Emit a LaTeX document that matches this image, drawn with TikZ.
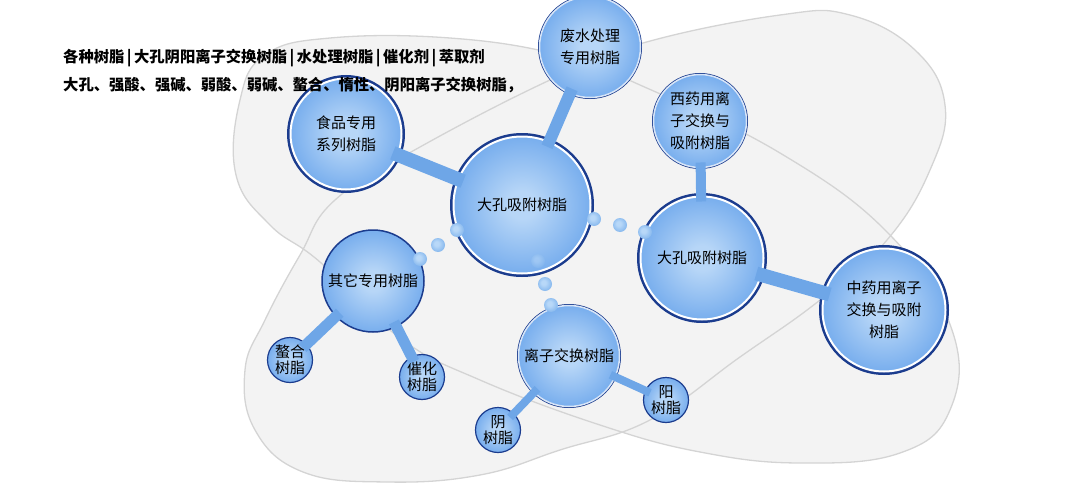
\documentclass[tikz,border=0pt]{standalone}
\usepackage{fontspec}
\setmainfont{Noto Sans CJK SC}
\usetikzlibrary{positioning}
\definecolor{Navy}{HTML}{1B3C8E}
\definecolor{BallIn}{HTML}{B7D6F7}
\definecolor{BallMid}{HTML}{75ACED}
\definecolor{BallOut}{HTML}{3A7FD6}
\definecolor{BubIn}{HTML}{B8D8F8}
\definecolor{BubOut}{HTML}{4F94E2}
\definecolor{Barc}{HTML}{6EA6E7}
\definecolor{Blobc}{HTML}{F3F3F3}
\definecolor{Blobe}{HTML}{D4D4D4}
\pgfdeclareradialshading{ballshade}{\pgfpoint{0bp}{0bp}}{color(0bp)=(BallIn); color(5bp)=(BallIn); color(26bp)=(BallMid); color(50bp)=(BallOut)}
\pgfdeclareradialshading{bubshade}{\pgfpoint{-6bp}{6bp}}{color(0bp)=(BubIn); color(8bp)=(BubIn); color(50bp)=(BubOut)}
\tikzset{
  ball/.style={circle, shading=ballshade, inner sep=0pt, outer sep=0pt, align=center, text=black},
  ballbig/.style={ball, preaction={draw=Navy, line width=7pt}, draw=white, line width=2pt,
    font=\fontsize{15}{22}\selectfont},
  ballthin/.style={ball, preaction={draw=Navy, line width=3pt}, draw=white!80!BallOut, line width=1.5pt,
    font=\fontsize{15}{22}\selectfont},
  ballsmall/.style={ball, draw=Navy, line width=1.2pt, minimum size=45pt,
    font=\fontsize{15}{16.5}\selectfont},
  bubble/.style={circle, shading=bubshade, inner sep=0pt, minimum size=14pt},
  bar/.style={draw=Barc, shorten <=-5pt, shorten >=-5pt},
  blob/.style={fill=Blobc},
  blobline/.style={draw=Blobe, line width=1.3pt},
  headline/.style={anchor=west, inner sep=0pt, font=\fontsize{15.3}{15}\selectfont\bfseries},
}
\newcommand{\vbar}{\hspace{2.5pt}|\hspace{2.5pt}}
\newcommand{\blobA}{plot[smooth cycle, tension=0.7] coordinates {(240,100) (265,55) (330,38) (450,38)
  (560,55) (640,85) (780,153) (890,235) (952,330) (950,410) (900,453) (800,463) (700,452)
  (600,425) (480,380) (400,338) (320,262) (270,225) (236,175)}}
\newcommand{\blobB}{plot[smooth cycle, tension=0.7] coordinates {(245,370) (265,320) (300,255)
  (335,200) (420,147) (550,80) (643,43) (780,15) (850,15) (915,50) (945,105) (930,170)
  (887,240) (820,300) (740,357) (650,420) (560,450) (480,475) (387,482) (303,472) (255,430)}}

\begin{document}
\begin{tikzpicture}[x=1pt, y=-1pt]
  \useasboundingbox (0,0) rectangle (1072,490);
  \path[blob] \blobA;
  \path[blob] \blobB;
  \path[blobline] \blobA;
  \path[blobline] \blobB;

  \node[ballbig, minimum size=137pt] (dakong) at (522,205) {大孔吸附树脂};
  \node[ballbig, minimum size=111pt] (shipin) at (346,134) {食品专用\\系列树脂};
  \node[ballthin, minimum size=101pt] (feishui) at (590,47) {废水处理\\专用树脂};
  \node[ballthin, minimum size=93pt] (xiyao) at (700,121) {西药用离\\子交换与\\吸附树脂};
  \node[ballbig, minimum size=123pt] (dakongB) at (702,258) {大孔吸附树脂};
  \node[ballbig, minimum size=123pt] (zhongyao) at (884,310) {中药用离子\\交换与吸附\\树脂};
  \node[ball, draw=Navy, line width=1.5pt, minimum size=102pt,
    font=\fontsize{15}{22}\selectfont] (qita) at (373,281) {其它专用树脂};
  \node[ballthin, minimum size=101pt] (lizi) at (569,356) {离子交换树脂};
  \node[ballsmall] (aohe) at (290,360) {螯合\\树脂};
  \node[ballsmall] (cuihua) at (422,377) {催化\\树脂};
  \node[ballsmall] (yin) at (498,430) {阴\\树脂};
  \node[ballsmall] (yang) at (666,400) {阳\\树脂};

  \draw[bar, line width=14pt] (shipin) -- (dakong);
  \draw[bar, line width=12pt] (feishui) -- (dakong);
  \draw[bar, line width=10pt] (xiyao) -- (dakongB);
  \draw[bar, line width=14pt] (dakongB) -- (zhongyao);
  \draw[bar, line width=11pt] (qita) -- (aohe);
  \draw[bar, line width=11pt] (qita) -- (cuihua);
  \draw[bar, line width=8pt] (lizi) -- (yin);
  \draw[bar, line width=8pt] (lizi) -- (yang);

  \foreach \bx/\by/\bn in {457/230/1, 438/245/2, 420/259/3, 594/219/4, 620/225/5,
    645/232/6, 545/284/7, 551/305/8}
    \node[bubble] (bub\bn) at (\bx,\by) {};
  \node[bubble, opacity=0.5] (bub9) at (538,261) {};

  \node[headline] (row1) at (63,58) {各种树脂\vbar 大孔阴阳离子交换树脂\vbar 水处理树脂\vbar 催化剂\vbar 萃取剂};
  \node[headline] (row2) at (63,85) {大孔、强酸、强碱、弱酸、弱碱、螯合、惰性、阴阳离子交换树脂，};
\end{tikzpicture}
\end{document}
